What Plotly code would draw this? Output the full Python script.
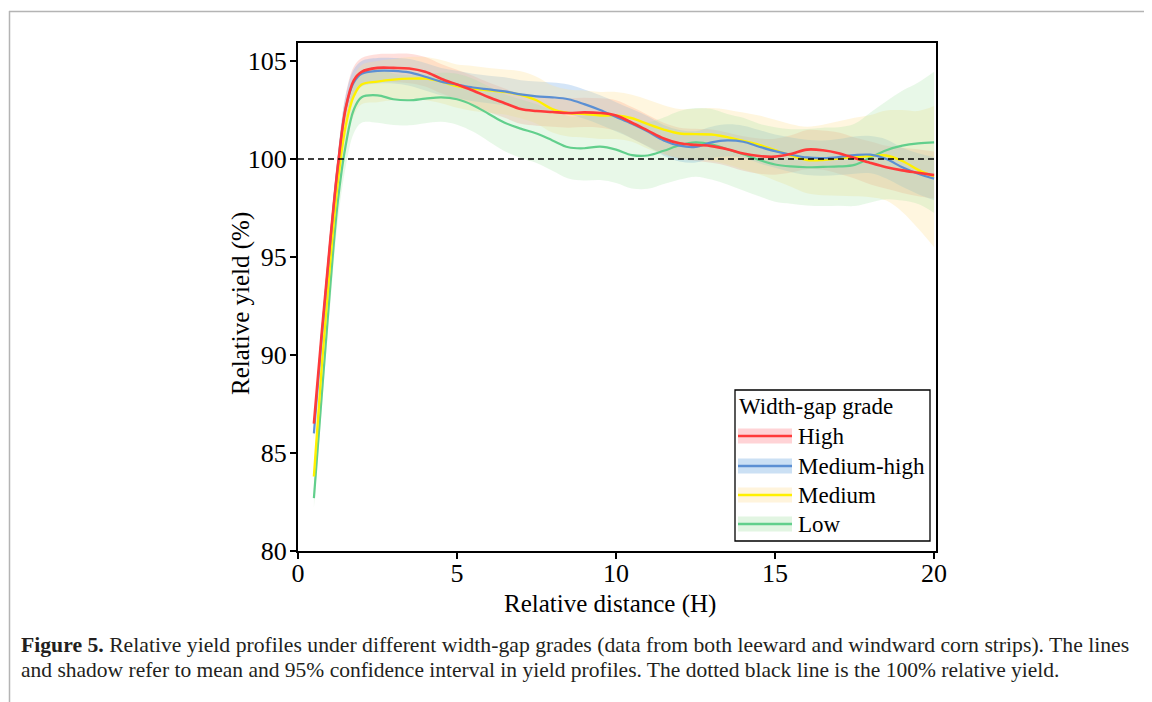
import plotly.graph_objects as go

# ---------------- data ----------------
x = [0.5, 0.75, 1.0, 1.25, 1.5, 1.75, 2.0, 2.5, 3.0, 3.5, 4.0, 4.5, 5.0, 5.5, 6.0,
     6.5, 7.0, 7.5, 8.0, 8.5, 9.0, 9.5, 10.0, 10.5, 11.0, 11.5, 12.0, 12.5, 13.0,
     13.5, 14.0, 14.5, 15.0, 15.5, 16.0, 16.5, 17.0, 17.5, 18.0, 18.5, 19.0, 19.5, 20.0]

high = [86.5, 91.2, 95.6, 99.6, 102.6, 104.0, 104.45, 104.65, 104.65, 104.62, 104.45,
        104.1, 103.8, 103.5, 103.15, 102.85, 102.55, 102.45, 102.4, 102.35, 102.38,
        102.35, 102.22, 101.85, 101.45, 101.05, 100.8, 100.72, 100.66, 100.5, 100.28,
        100.15, 100.12, 100.26, 100.48, 100.45, 100.3, 100.05, 99.8, 99.58, 99.42,
        99.3, 99.18]
high_ci = [0.3, 0.4, 0.5, 0.6, 0.7, 0.7, 0.7, 0.7, 0.72, 0.75, 0.75, 0.75, 0.75, 0.75,
           0.75, 0.75, 0.75, 0.75, 0.75, 0.75, 0.75, 0.75, 0.78, 0.8, 0.8, 0.8, 0.8,
           0.82, 0.85, 0.85, 0.88, 0.9, 0.92, 0.95, 1.0, 1.0, 1.05, 1.05, 1.1, 1.1,
           1.15, 1.2, 1.2]

medium_high = [86.0, 91.0, 95.5, 99.6, 102.6, 103.9, 104.35, 104.5, 104.5, 104.42,
               104.2, 103.95, 103.8, 103.65, 103.55, 103.45, 103.3, 103.2, 103.15,
               103.05, 102.8, 102.5, 102.15, 101.8, 101.4, 100.95, 100.68, 100.62,
               100.85, 100.95, 100.88, 100.63, 100.4, 100.22, 100.08, 100.05, 100.1,
               100.2, 100.22, 100.0, 99.58, 99.25, 99.0]
medium_high_ci = [0.3, 0.4, 0.5, 0.6, 0.65, 0.65, 0.65, 0.65, 0.65, 0.68, 0.7, 0.7,
                  0.7, 0.7, 0.7, 0.72, 0.72, 0.75, 0.75, 0.75, 0.75, 0.75, 0.75, 0.75,
                  0.78, 0.78, 0.8, 0.8, 0.8, 0.82, 0.82, 0.85, 0.85, 0.88, 0.9, 0.9,
                  0.92, 0.95, 0.95, 1.0, 1.0, 1.05, 1.1]

medium = [83.8, 89.5, 94.5, 98.8, 101.7, 103.2, 103.8, 103.95, 104.05, 104.1, 104.1,
          103.95, 103.72, 103.6, 103.5, 103.42, 103.28, 103.0, 102.55, 102.35, 102.3,
          102.22, 102.22, 102.08, 101.78, 101.5, 101.3, 101.27, 101.25, 101.12, 100.92,
          100.72, 100.45, 100.18, 99.95, 99.95, 100.03, 100.1, 100.15, 100.18, 99.9,
          99.45, 99.1]
medium_ci = [0.4, 0.6, 0.8, 0.9, 1.0, 1.0, 1.0, 1.05, 1.05, 1.1, 1.1, 1.1, 1.1, 1.15,
             1.15, 1.15, 1.2, 1.2, 1.2, 1.2, 1.2, 1.2, 1.2, 1.2, 1.25, 1.25, 1.25, 1.3,
             1.35, 1.4, 1.45, 1.5, 1.55, 1.6, 1.7, 1.8, 1.9, 2.0, 2.1, 2.3, 2.6, 3.0, 3.6]

low = [82.7, 88.0, 93.2, 97.8, 100.7, 102.5, 103.15, 103.25, 103.05, 103.0, 103.08,
       103.15, 103.05, 102.75, 102.3, 101.85, 101.55, 101.3, 100.95, 100.6, 100.55,
       100.63, 100.48, 100.2, 100.18, 100.42, 100.7, 100.85, 100.75, 100.5, 100.25,
       99.95, 99.72, 99.62, 99.58, 99.6, 99.62, 99.7, 100.08, 100.45, 100.68, 100.8,
       100.85]
low_ci = [0.5, 0.7, 0.9, 1.0, 1.1, 1.2, 1.3, 1.4, 1.32, 1.28, 1.25, 1.25, 1.3, 1.35,
          1.4, 1.45, 1.5, 1.5, 1.55, 1.6, 1.65, 1.7, 1.7, 1.7, 1.7, 1.7, 1.75, 1.75,
          1.8, 1.8, 1.85, 1.85, 1.9, 1.9, 1.95, 2.0, 2.0, 2.1, 2.3, 2.5, 2.8, 3.1, 3.6]

series_names = ["High", "Medium-high", "Medium", "Low"]
series_means = [high, medium_high, medium, low]
series_ci = [high_ci, medium_high_ci, medium_ci, low_ci]
line_colors = ["#FF3A3A", "#5B8FD3", "#FFF000", "#62CF8C"]
band_colors = ["rgba(255,120,110,0.24)", "rgba(120,175,230,0.32)",
               "rgba(255,225,150,0.30)", "rgba(160,225,160,0.24)"]
swatch_colors = ["#FFD3D6", "#CBE0F4", "#FFF4DC", "#E2F5E2"]
line_widths = [2.6, 2.2, 2.4, 2.2]

x_ticks = [0, 5, 10, 15, 20]
y_ticks = [80, 85, 90, 95, 100, 105]
reference_yield = 100
legend_title = "Width-gap grade"
caption_line1 = ("<b>Figure 5.</b> Relative yield profiles under different width-gap grades "
                 "(data from both leeward and windward corn strips). The lines")
caption_line2 = ("and shadow refer to mean and 95% confidence interval in yield profiles. "
                 "The dotted black line is the 100% relative yield.")

FONT = "Liberation Serif"
OFF = 8                        # browser body margin
W, H = 1152 - OFF, 702 - OFF   # figure size
L, R, T, B = 298, 936, 43, 551  # plot area in page pixels


def px(xp):
    return (xp - L) / (R - L)


def py(yp):
    return (B - yp) / (B - T)


fig = go.Figure()

# confidence bands
for i, (name, mean, ci) in enumerate(zip(series_names, series_means, series_ci)):
    upper = [m + c for m, c in zip(mean, ci)]
    lower = [m - c for m, c in zip(mean, ci)]
    fig.add_trace(go.Scatter(x=x, y=upper, mode="lines", line=dict(width=0, shape="spline"),
                             showlegend=False, hoverinfo="skip", name=name + " upper"))
    fig.add_trace(go.Scatter(x=x, y=lower, mode="lines", line=dict(width=0, shape="spline"),
                             fill="tonexty", fillcolor=band_colors[i],
                             showlegend=False, hoverinfo="skip", name=name + " lower"))

# mean lines on top of all bands (Low first, High last)
for i in [3, 2, 1, 0]:
    fig.add_trace(go.Scatter(x=x, y=series_means[i], mode="lines", showlegend=False,
                             name=series_names[i],
                             line=dict(color=line_colors[i], width=line_widths[i], shape="spline")))

# 100% reference line
fig.add_shape(type="line", xref="paper", yref="y", x0=0, x1=1,
              y0=reference_yield, y1=reference_yield,
              line=dict(color="black", width=1.6, dash="6px,4px"), layer="above")

# page frame (grey border at top and left)
fig.add_shape(type="line", xref="paper", yref="paper", x0=px(9), x1=px(1160),
              y0=py(11.5), y1=py(11.5), line=dict(color="#B4B4B4", width=1.5))
fig.add_shape(type="line", xref="paper", yref="paper", x0=px(9.5), x1=px(9.5),
              y0=py(11), y1=py(710), line=dict(color="#B4B4B4", width=1.5))

# ---------------- legend (drawn box) ----------------
fig.add_shape(type="rect", xref="paper", yref="paper", x0=px(735), x1=px(930),
              y0=py(390), y1=py(541), line=dict(color="black", width=1.3),
              fillcolor="white", layer="above")
fig.add_annotation(xref="paper", yref="paper", x=px(737), y=py(406), xanchor="left",
                   yanchor="middle", showarrow=False, text=legend_title,
                   font=dict(family=FONT, size=23, color="black"))
entry_y = [436, 466, 495, 524]
for i, name in enumerate(series_names):
    yc = entry_y[i]
    fig.add_shape(type="rect", xref="paper", yref="paper", x0=px(738), x1=px(792),
                  y0=py(yc - 7.5), y1=py(yc + 7.5), line=dict(width=0),
                  fillcolor=swatch_colors[i], layer="above")
    fig.add_shape(type="line", xref="paper", yref="paper", x0=px(738), x1=px(792),
                  y0=py(yc), y1=py(yc), line=dict(color=line_colors[i], width=2.4),
                  layer="above")
    fig.add_annotation(xref="paper", yref="paper", x=px(796), y=py(yc), xanchor="left",
                       yanchor="middle", showarrow=False, text=name,
                       font=dict(family=FONT, size=23, color="black"))

# axis titles
fig.add_annotation(xref="paper", yref="paper", x=px(610), y=py(604), xanchor="center",
                   yanchor="middle", showarrow=False, text="Relative distance (H)",
                   font=dict(family=FONT, size=25, color="black"))
fig.add_annotation(xref="paper", yref="paper", x=px(241), y=py(304), xanchor="center",
                   yanchor="middle", showarrow=False, text="Relative yield (%)", textangle=-90,
                   font=dict(family=FONT, size=25, color="black"))

# caption
fig.add_annotation(xref="paper", yref="paper", x=px(19), y=py(645), xanchor="left",
                   yanchor="middle", showarrow=False, align="left", text=caption_line1,
                   font=dict(family=FONT, size=21.7, color="#231F20"))
fig.add_annotation(xref="paper", yref="paper", x=px(19), y=py(670), xanchor="left",
                   yanchor="middle", showarrow=False, align="left", text=caption_line2,
                   font=dict(family=FONT, size=21.5, color="#231F20"))

axis_common = dict(showline=True, linecolor="black", linewidth=2, mirror=True,
                   ticks="outside", ticklen=6, tickwidth=2, tickcolor="black",
                   showgrid=False, zeroline=False,
                   tickfont=dict(family=FONT, size=26, color="black"))

fig.update_layout(
    width=W, height=H,
    margin=dict(l=L - OFF, r=1152 - R, t=T - OFF, b=702 - B, pad=0),
    paper_bgcolor="white", plot_bgcolor="white",
    xaxis=dict(range=[0, 20.06], tickvals=x_ticks, ticklabelstandoff=-8, **axis_common),
    yaxis=dict(range=[80, 105.92], tickvals=y_ticks, ticklabelstandoff=-2, **axis_common),
    showlegend=False,
)

fig.write_html("out.html")
